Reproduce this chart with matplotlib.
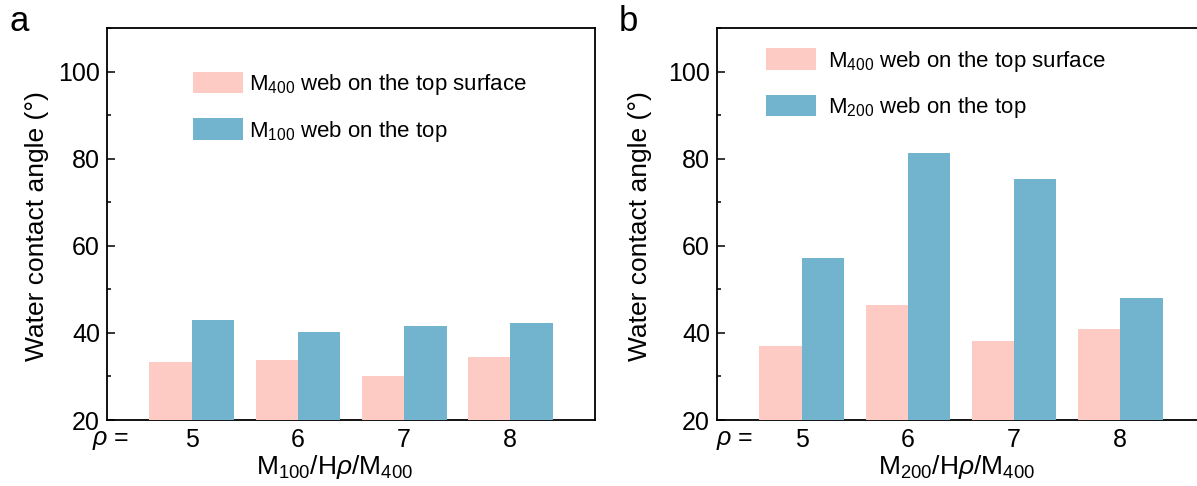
import numpy as np
import matplotlib
matplotlib.use("Agg")
import matplotlib.pyplot as plt
from matplotlib.ticker import MultipleLocator

plt.rcParams['font.family'] = ['Liberation Sans', 'DejaVu Sans']
plt.rcParams['mathtext.fontset'] = 'custom'
plt.rcParams['mathtext.rm'] = 'Liberation Sans'
plt.rcParams['mathtext.it'] = 'Liberation Sans:italic'
plt.rcParams['mathtext.bf'] = 'Liberation Sans:bold'

# Données : angle de contact (°) selon rho
rho = [5, 6, 7, 8]
a_m400 = [33.3, 33.8, 30.2, 34.5]
a_m100 = [42.9, 40.1, 41.5, 42.2]
b_m400 = [37.0, 46.4, 38.1, 40.8]
b_m200 = [57.2, 81.3, 75.3, 48.0]

rose = '#fdcbc4'
bleu = '#72b4ce'

fig = plt.figure(figsize=(11.97, 4.86), dpi=100)
ax_a = fig.add_axes([0.0894, 0.1358, 0.4077, 0.8066])
ax_b = fig.add_axes([0.5990, 0.1358, 0.4077, 0.8066])


def trace(ax, v1, v2, lab1, lab2, xlab, leg_pos, txtpad, rho_x, xlab_x, ylab_x):
    x = np.array(rho, dtype=float)
    w = 0.4
    ax.bar(x - w / 2, np.array(v1) - 20, w, bottom=20, color=rose, label=lab1, zorder=3)
    ax.bar(x + w / 2, np.array(v2) - 20, w, bottom=20, color=bleu, label=lab2, zorder=3)
    ax.set_xlim(4.2, 8.8)
    ax.set_ylim(20, 110)
    ax.set_xticks(x)
    ax.set_xticklabels([str(r) for r in rho])
    ax.yaxis.set_major_locator(MultipleLocator(20))
    ax.yaxis.set_minor_locator(MultipleLocator(10))
    ax.tick_params(axis='y', which='major', direction='in', length=5.5, width=1.1,
                   labelsize=18, pad=5)
    ax.tick_params(axis='y', which='minor', direction='in', length=3, width=1.1)
    ax.tick_params(axis='x', length=0, labelsize=18, pad=6)
    for s in ax.spines.values():
        s.set_linewidth(1.3)
        s.set_color('black')
    ax.set_ylabel('Water contact angle (°)', fontsize=19)
    ax.yaxis.set_label_coords(ylab_x, 0.495)
    ax.set_xlabel(xlab, fontsize=19)
    ax.xaxis.set_label_coords(xlab_x, -0.085)
    ax.text(rho_x, -0.02, r'$\rho$ =', transform=ax.transAxes, ha='center', va='top',
            fontsize=18)
    ax.legend(loc='upper left', bbox_to_anchor=leg_pos, frameon=False, fontsize=16,
              handlelength=2.25, handleheight=1.12, handletextpad=txtpad,
              labelspacing=0.95, borderpad=0, borderaxespad=0)


trace(ax_a, a_m400, a_m100,
      r'M$_{400}$ web on the top surface', r'M$_{100}$ web on the top',
      r'M$_{100}$/H$\rho$/M$_{400}$', (0.1756, 0.8885), 0.27, 0.008, 0.466, -0.119)
trace(ax_b, b_m400, b_m200,
      r'M$_{400}$ web on the top surface', r'M$_{200}$ web on the top',
      r'M$_{200}$/H$\rho$/M$_{400}$', (0.1004, 0.948), 0.54, 0.037, 0.491, -0.133)

fig.text(0.008, 0.99, 'a', fontsize=25, va='top')
fig.text(0.517, 0.99, 'b', fontsize=25, va='top')

fig.savefig('out.png', dpi=100)
